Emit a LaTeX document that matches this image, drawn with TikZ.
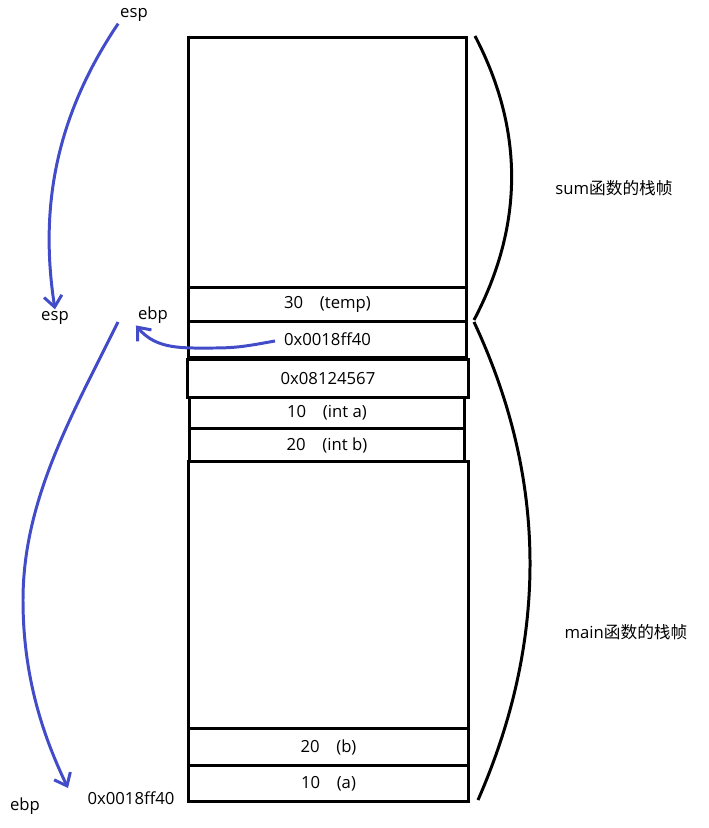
\documentclass[tikz,border=0pt]{standalone}
\usepackage{fontspec}
\setmainfont{Open Sans}
\newfontfamily\cjk{Noto Sans CJK SC}
\usetikzlibrary{arrows.meta}
\definecolor{pen}{RGB}{66,76,200}

\tikzset{
  cell/.style={draw,line width=1.7pt,anchor=north west,inner sep=0pt,
    font=\fontsize{9.5}{11}\selectfont},
  lbl/.style={inner sep=1pt,font=\fontsize{9.5}{11}\selectfont},
  ink/.style={draw=pen,line width=1.7pt,-{Straight Barb[length=2.2mm,width=3.6mm]}},
  brace/.style={line width=1.7pt}
}

\begin{document}
\begin{tikzpicture}[x=0.02cm,y=-0.02cm]
    \useasboundingbox (0,0) rectangle (709,828);
    % stack cells
    \node[cell,minimum width=5.56cm,minimum height=5cm] (sumfr) at (187,36) {};
    \node[cell,minimum width=5.56cm,minimum height=0.68cm] (temp) at (187,286) {30\quad(temp)};
    \node[cell,minimum width=5.56cm,minimum height=0.72cm] (oldebp) at (187,320) {0x0018ff40};
    \node[cell,minimum width=5.62cm,minimum height=0.76cm] (ret) at (186,358) {0x08124567};
    \node[cell,minimum width=5.5cm,minimum height=0.62cm] (inta) at (188,396) {10\quad(int a)};
    \node[cell,minimum width=5.5cm,minimum height=0.66cm] (intb) at (188,427) {20\quad(int b)};
    \node[cell,minimum width=5.6cm,minimum height=5.34cm] (mainfr) at (187,460) {};
    \node[cell,minimum width=5.6cm,minimum height=0.74cm] (b) at (187,727) {20\quad(b)};
    \node[cell,minimum width=5.6cm,minimum height=0.72cm] (a) at (187,764) {10\quad(a)};

    % frame braces
    \draw[brace] (475,36) .. controls (524,130) and (524,225) .. (474,320);
    \draw[brace] (474,322) .. controls (548,480) and (548,640) .. (478,800);
    \node[lbl] (sumlbl) at (614,188) {sum{\cjk 函数的栈帧}};
    \node[lbl] (mainlbl) at (626,632) {main{\cjk 函数的栈帧}};

    % registers
    \node[lbl] (esp1) at (134,15) {esp};
    \node[lbl] (esp2) at (55,318) {esp};
    \node[lbl] (ebp1) at (153,315) {ebp};
    \node[lbl] (ebp2) at (25,806) {ebp};
    \node[lbl] (addr) at (131,798) {0x0018ff40};
    \coordinate (src) at (275,341);
    \coordinate (ebpgo) at (118,322);
    \coordinate (ebpend) at (68,788);

    \draw[ink] (esp1.south west) .. controls (60,110) and (38,200) .. (esp2.north);
    \draw[ink] (src) to[out=190,in=0] (215,348) to[out=180,in=-50] (ebp1.south west);
    \draw[ink] (ebpgo) .. controls (72,415) and (23,500) .. (23,600)
      .. controls (23,680) and (45,740) .. (ebpend);
  \end{tikzpicture}
\end{document}
